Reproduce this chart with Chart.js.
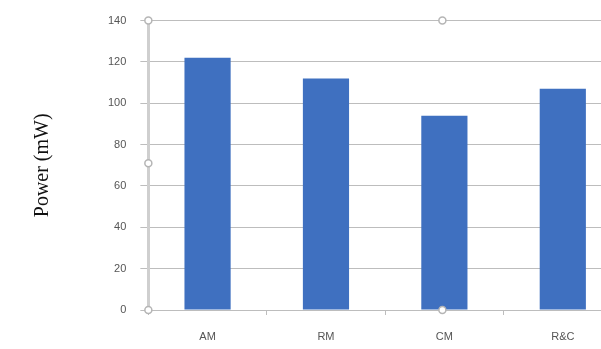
<!DOCTYPE html>
<html>
<head>
<meta charset="utf-8">
<script src="https://cdn.jsdelivr.net/npm/chart.js@4.4.1/dist/chart.umd.min.js"></script>
<style>
  html, body { margin: 0; padding: 0; background: #fff; overflow: hidden; }
  #wrap { width: 622px; height: 349px; }
</style>
</head>
<body>
<div id="wrap"><canvas id="plots" width="622" height="349"></canvas></div>
<script>
// categories and values
var methods = ["AM", "RM", "CM", "R&C"];
var power = [122, 112, 94, 107]; // mW
var yTicks = [0, 20, 40, 60, 80, 100, 120, 140];

// little round selection handles around the plot area (left over from the spreadsheet)
var handles = {
  id: 'handles',
  afterDraw: function (chart) {
    var a = chart.chartArea, ctx = chart.ctx;
    var midX = chart.scales.x.getPixelForValue(2) - 2;
    var midY = (a.top + a.bottom) / 2 - 2;
    var pts = [[a.left, a.top], [midX, a.top], [a.left, midY], [a.left, a.bottom], [midX, a.bottom]];
    ctx.save();
    ctx.lineWidth = 1.5;
    ctx.strokeStyle = '#b5b5b5';
    ctx.fillStyle = '#fff';
    pts.forEach(function (p) {
      ctx.beginPath();
      ctx.arc(p[0], p[1], 3.5, 0, Math.PI * 2);
      ctx.fill();
      ctx.stroke();
    });
    ctx.restore();
  }
};

plots = document.getElementById("plots");
new Chart(plots, {
  type: 'bar',
  data: {
    labels: methods,
    datasets: [{
      data: power,
      backgroundColor: '#3f70c0',
      borderWidth: 0,
      barPercentage: 0.78,
      categoryPercentage: 0.5
    }]
  },
  options: {
    responsive: false,
    animation: false,
    layout: { padding: { left: 31, top: 14, right: 0, bottom: 0 } },
    plugins: { legend: { display: false }, tooltip: { enabled: false } },
    scales: {
      x: {
        afterFit: function (scale) { scale.height = 39; },
        grid: { display: true, offset: true, drawOnChartArea: false, drawTicks: true, tickLength: 5, color: '#bdbdbd' },
        border: { display: true, color: '#bdbdbd', width: 1 },
        ticks: { color: '#555', font: { family: 'Liberation Sans', size: 11 }, padding: 15 }
      },
      y: {
        min: 0,
        max: 140,
        afterBuildTicks: function (axis) { axis.ticks = yTicks.map(function (v) { return { value: v }; }); },
        grid: { color: '#bdbdbd', tickLength: 8, lineWidth: 1 },
        border: { display: true, color: '#cfcfcf', width: 3 },
        ticks: { color: '#555', font: { family: 'Liberation Sans', size: 11 }, padding: 14 },
        title: { display: true, text: 'Power (mW)', color: '#111', font: { family: 'Liberation Serif', size: 20 }, padding: { top: 0, bottom: 39 } }
      }
    }
  },
  plugins: [handles]
});
</script>
</body>
</html>
